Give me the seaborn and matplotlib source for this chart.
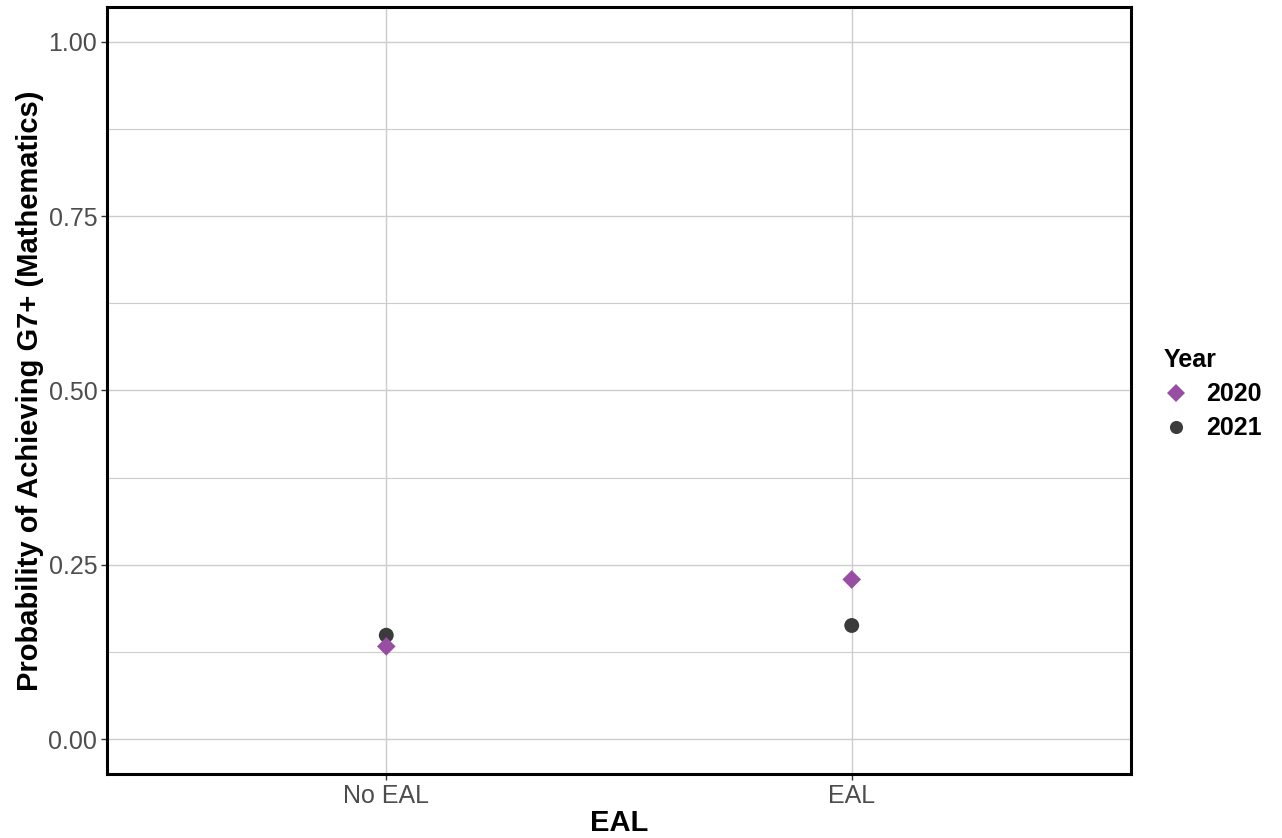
import pandas as pd
import numpy as np
import matplotlib
matplotlib.use('Agg')
from matplotlib import pyplot as plt
from matplotlib.ticker import MultipleLocator
import seaborn as sns

# values
groups = ['No EAL', 'EAL']
years = ['2020', '2021']
prob_2020 = [0.133, 0.229]
prob_2021 = [0.149, 0.163]

# 2021 first so the 2020 diamonds sit on top
df = pd.DataFrame({
    'EAL': groups + groups,
    'Year': ['2021'] * 2 + ['2020'] * 2,
    'prob': prob_2021 + prob_2020,
})
df['x'] = df['EAL'].map({g: i for i, g in enumerate(groups)})

sns.set_style('white')
plt.rcParams['font.family'] = ['Liberation Sans', 'DejaVu Sans']

fig = plt.figure(figsize=(12.82, 8.38), dpi=100)
ax = fig.add_axes([107 / 1282, 1 - 774 / 838, 1024 / 1282, 767 / 838])

ax = sns.scatterplot(data=df, x='x', y='prob', hue='Year', style='Year',
                     hue_order=years, style_order=years,
                     palette={'2020': '#984EA3', '2021': '#3B3B3B'},
                     markers={'2020': 'D', '2021': 'o'},
                     s=110, linewidth=0, ax=ax, zorder=3)
# diamonds a touch smaller than the circles
ax.collections[0].set_sizes(np.where(df['Year'] == '2020', 90, 115))

# grid like ggplot
ax.set_xlim(-0.6, 1.6)
ax.set_ylim(-0.05, 1.05)
ax.set_xticks(range(len(groups)))
ax.set_xticklabels(groups)
ax.yaxis.set_major_locator(MultipleLocator(0.25))
ax.yaxis.set_minor_locator(MultipleLocator(0.125))
ax.set_yticklabels(['%.2f' % v for v in ax.get_yticks()])
ax.set_ylim(-0.05, 1.05)
ax.grid(True, which='major', color='#cccccc', linewidth=1.0)
ax.grid(True, which='minor', axis='y', color='#cccccc', linewidth=0.8)
ax.set_axisbelow(True)
for sp in ax.spines.values():
    sp.set_color('black')
    sp.set_linewidth(2.2)

ax.tick_params(axis='both', which='major', length=4, width=1, color='#333333',
               labelsize=18, labelcolor='#4D4D4D', bottom=True, left=True,
               pad=3)
ax.tick_params(axis='y', which='minor', length=0)

ax.set_xlabel('EAL', fontsize=21, fontweight='bold', color='black', labelpad=1)
ax.set_ylabel('Probability of Achieving G7+ (Mathematics)', fontsize=21,
              fontweight='bold', color='black', labelpad=3)

leg = ax.legend(title='Year', loc='center left', bbox_to_anchor=(1.012, 0.495),
                frameon=False, fontsize=18, title_fontsize=18,
                handlelength=1.0, handletextpad=0.7, borderaxespad=0.4,
                markerscale=0.9, labelspacing=0.4)
leg.get_title().set_fontweight('bold')
leg._legend_box.align = 'left'
for t in leg.get_texts():
    t.set_fontweight('bold')
    t.set_color('black')
leg.get_title().set_color('black')

fig.savefig('out.png', dpi=100)
